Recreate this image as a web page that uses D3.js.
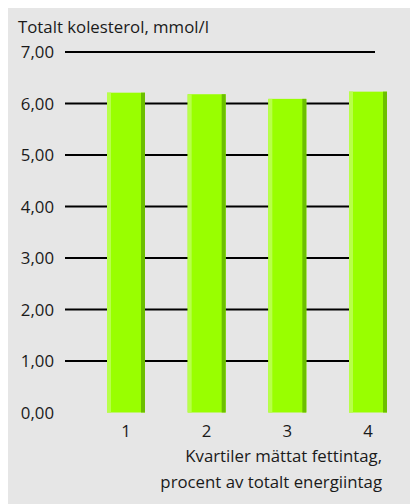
<!DOCTYPE html>
<html><head><meta charset="utf-8">
<script src="https://cdn.jsdelivr.net/npm/d3@7"></script>
<style>
html,body{margin:0;padding:0;background:#fff;}
svg{display:block;}
text{font-family:"Open Sans","Noto Sans",sans-serif;fill:#1a1a1a;}
</style></head>
<body>
<script>
const categories = ["1","2","3","4"];
const values = [6.21, 6.18, 6.09, 6.23];
const yTicks = [0,1,2,3,4,5,6,7];
const yTickLabels = ["0,00","1,00","2,00","3,00","4,00","5,00","6,00","7,00"];
const yTitle = "Totalt kolesterol, mmol/l";
const xTitle = ["Kvartiler mättat fettintag,", "procent av totalt energiintag"];

const W = 410, H = 504;
const FS = 16.8;
const svg = d3.select("body").append("svg").attr("width", W).attr("height", H);
svg.append("rect").attr("x", 8).attr("y", 8).attr("width", W - 8).attr("height", H - 8).attr("fill", "#e6e6e6");

const y = d3.scaleLinear().domain([0, 7]).range([412.5, 52]);
const x = d3.scalePoint().domain(categories).range([126, 368]);
const bw = 38, edge = 4;

// gridlines
svg.append("g").selectAll("line").data(yTicks.filter(d => d > 0)).join("line")
  .attr("x1", 65).attr("x2", 375)
  .attr("y1", d => y(d)).attr("y2", d => y(d))
  .attr("stroke", "#000").attr("stroke-width", 2);

// y labels
svg.append("g").selectAll("text").data(yTicks).join("text")
  .attr("x", 54).attr("y", d => y(d)).attr("dy", "0.36em")
  .attr("text-anchor", "end").attr("font-size", FS)
  .text((d, i) => yTickLabels[i]);

// bars
const bars = svg.append("g").selectAll("g").data(values).join("g");
bars.append("rect")
  .attr("x", (d, i) => x(categories[i]) - bw / 2).attr("width", bw)
  .attr("y", d => y(d)).attr("height", d => y(0) - y(d))
  .attr("fill", "#99ff00");
bars.append("rect")
  .attr("x", (d, i) => x(categories[i]) - bw / 2).attr("width", edge)
  .attr("y", d => y(d)).attr("height", d => y(0) - y(d))
  .attr("fill", "#b8ff4a");
bars.append("rect")
  .attr("x", (d, i) => x(categories[i]) + bw / 2 - edge).attr("width", edge)
  .attr("y", d => y(d)).attr("height", d => y(0) - y(d))
  .attr("fill", "#6cbf00");

// x tick labels
svg.append("g").selectAll("text").data(categories).join("text")
  .attr("x", d => x(d)).attr("y", 437).attr("text-anchor", "middle")
  .attr("font-size", FS).text(d => d);

// titles
svg.append("text").attr("x", 18).attr("y", 33).attr("font-size", FS).text(yTitle);
svg.append("g").selectAll("text").data(xTitle).join("text")
  .attr("x", 382).attr("y", (d, i) => 462 + i * 26).attr("text-anchor", "end")
  .attr("font-size", FS).text(d => d);
</script>
</body></html>
